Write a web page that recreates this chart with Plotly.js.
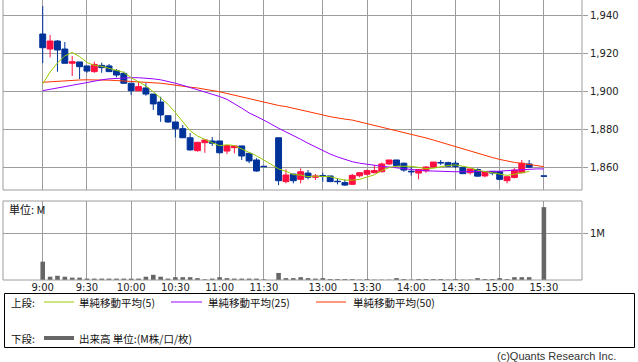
<!DOCTYPE html>
<html>
<head>
<meta charset="utf-8">
<script src="https://cdn.plot.ly/plotly-3.0.1.min.js"></script>
<style>html,body{margin:0;padding:0;background:#fff;}#chart{width:638px;height:362px;}</style>
</head>
<body>
<div id="chart"></div>
<script>
// ---- data (5-minute slots: 0 = 9:00, 31 = lunch gap, 32 = 12:30, 68 = 15:30) ----
const candleSlot = [0,1,2,3,4,5,6,7,8,9,10,11,12,13,14,15,16,17,18,19,20,21,22,23,24,25,26,27,28,29,30,
  32,33,34,35,36,37,38,39,40,41,42,43,44,45,46,47,48,49,50,51,52,53,54,55,56,57,58,59,60,61,62,63,64,65,66,68];
const openP = [1930.0,1922.1,1926.3,1922.1,1914.6,1915.3,1913.2,1910.2,1913.5,1913.2,1910.7,1909.3,1904.1,1900.2,1901.6,1898.4,1894.2,1887.0,1883.7,1880.2,1875.4,1868.6,1872.8,1873.7,1873.7,1868.4,1870.2,1871.1,1867.2,1863.7,1860.4,
  1875.4,1852.3,1856.3,1853.5,1856.8,1854.6,1855.5,1855.3,1852.5,1851.8,1850.9,1855.4,1856.2,1857.0,1857.5,1861.6,1863.7,1862.0,1857.8,1856.8,1858.0,1860.0,1862.4,1862.3,1862.0,1859.8,1857.0,1858.7,1855.3,1857.7,1857.5,1852.8,1854.5,1857.0,1861.6,1855.3];
const highP = [1944.7,1929.5,1926.8,1925.8,1918.4,1915.3,1913.2,1915.4,1914.9,1914.2,1911.6,1910.2,1904.1,1904.9,1904.1,1898.4,1897.0,1887.0,1883.7,1882.1,1877.9,1873.0,1874.7,1875.8,1873.7,1871.3,1871.1,1871.1,1867.2,1864.6,1860.4,
  1875.4,1858.8,1856.3,1859.3,1858.4,1856.3,1857.0,1855.3,1854.0,1853.5,1856.3,1857.0,1858.6,1861.1,1862.3,1863.7,1863.7,1862.3,1860.0,1858.7,1860.4,1862.6,1863.7,1862.8,1863.3,1859.8,1859.0,1859.2,1857.5,1857.7,1857.5,1854.9,1859.4,1863.7,1863.7,1855.3];
const lowP = [1914.7,1917.7,1910.2,1914.6,1907.9,1906.3,1909.6,1909.6,1909.6,1910.2,1907.2,1903.7,1897.9,1900.2,1897.5,1890.0,1883.8,1883.2,1875.6,1875.4,1868.6,1868.1,1867.5,1871.1,1867.2,1866.8,1867.2,1863.7,1862.0,1857.5,1860.2,
  1850.5,1851.4,1851.4,1851.4,1853.5,1853.2,1852.3,1852.3,1850.9,1850.0,1850.5,1854.6,1855.6,1856.7,1857.2,1861.1,1860.3,1857.5,1855.5,1853.5,1857.0,1859.4,1861.1,1860.0,1859.4,1856.5,1856.0,1854.9,1854.6,1855.7,1853.0,1851.4,1854.0,1856.7,1859.4,1855.2];
const closeP = [1922.8,1926.3,1921.6,1914.6,1915.4,1912.8,1910.5,1914.0,1912.3,1910.2,1908.4,1904.1,1900.2,1902.3,1898.4,1893.2,1887.4,1883.7,1880.2,1875.4,1869.0,1873.0,1874.2,1872.5,1867.5,1871.3,1871.1,1865.8,1863.2,1857.9,1860.2,
  1852.8,1855.8,1852.8,1857.5,1854.6,1855.3,1855.0,1852.3,1852.3,1850.5,1855.6,1857.0,1858.1,1858.1,1861.6,1863.7,1860.7,1858.4,1857.5,1858.7,1860.0,1862.6,1862.2,1860.4,1860.3,1856.5,1859.0,1855.2,1857.5,1856.8,1853.5,1854.9,1858.4,1862.0,1859.9,1855.2];
const volumeM = [0.39,0.07,0.09,0.07,0.05,0.05,0.03,0.03,0.03,0.03,0.03,0.03,0.03,0.03,0.07,0.11,0.07,0.03,0.06,0.06,0.06,0.04,0.015,0.03,0.06,0.04,0.03,0.03,0.03,0.03,0.015,
  0.15,0.04,0.04,0.06,0.04,0.03,0.04,0.02,0.02,0.02,0.02,0.008,0.02,0.008,0.008,0.008,0.04,0.02,0.008,0.02,0.02,0.02,0.02,0.008,0.02,0.008,0.008,0.04,0.02,0.02,0.04,0.02,0.06,0.06,0.06,1.55];

const ma5Slot = [0,1,2,3,4,5,6,7,8,9,10,11,12,13,14,15,16,17,18,19,20,21,22,23,24,25,26,27,28,29,30,
  32,33,34,35,36,37,38,39,40,41,42,43,44,45,46,47,48,49,50,51,52,53,54,55,56,57,58,59,60,61,62,63,64,65,66];
const ma5 = [1903.7,1910.0,1914.8,1918.5,1920.3,1918.1,1915.0,1913.5,1913.0,1912.0,1911.1,1909.8,1907.0,1905.0,1902.7,1899.6,1896.3,1893.0,1888.6,1884.0,1879.1,1876.3,1874.4,1872.8,1871.2,1871.7,1871.3,1869.6,1867.8,1865.9,1863.7,
  1859.0,1857.8,1856.0,1855.8,1854.9,1855.2,1855.0,1854.9,1853.9,1853.1,1853.1,1853.5,1854.7,1855.9,1858.1,1859.7,1860.4,1860.5,1860.4,1859.8,1859.1,1859.4,1860.2,1860.8,1861.1,1860.4,1859.7,1858.3,1857.7,1857.0,1856.4,1855.6,1856.2,1857.1,1857.7];
const maLongSlot = [0,1,2,3,4,5,6,7,8,9,10,11,12,13,14,15,16,17,18,19,20,21,22,23,24,25,26,27,28,29,30,
  32,33,34,35,36,37,38,39,40,41,42,43,44,45,46,47,48,49,50,51,52,53,54,55,56,57,58,59,60,61,62,63,64,65,66,67,68];
const ma25 = [1900.2,1900.8,1901.5,1902.3,1903.0,1903.8,1904.6,1905.3,1905.9,1906.4,1906.7,1906.9,1907.0,1907.0,1906.8,1906.4,1905.9,1905.1,1904.1,1903.0,1901.9,1900.8,1899.6,1898.4,1897.1,1895.6,1893.5,1891.0,1888.5,1886.6,1884.7,
  1880.4,1878.6,1876.8,1874.6,1872.5,1870.5,1868.6,1866.8,1865.3,1864.0,1862.8,1862.0,1861.4,1860.9,1860.4,1860.0,1859.5,1859.0,1858.6,1858.3,1858.0,1857.8,1857.6,1857.5,1857.5,1857.5,1857.5,1857.5,1857.5,1857.6,1857.8,1858.1,1858.4,1858.7,1858.9,1859.0,1859.0];
const ma50 = [1904.6,1904.9,1905.2,1905.4,1905.6,1905.8,1905.9,1905.9,1905.8,1905.7,1905.5,1905.3,1905.1,1904.9,1904.7,1904.4,1904.1,1903.6,1903.0,1902.4,1902.0,1901.6,1901.0,1900.3,1899.6,1898.7,1897.8,1896.8,1895.8,1895.0,1894.2,
  1892.4,1891.8,1891.0,1890.2,1889.4,1888.4,1887.4,1886.5,1885.7,1885.2,1884.7,1883.8,1882.8,1881.8,1880.8,1879.9,1879.0,1878.4,1877.4,1876.3,1875.3,1874.2,1873.0,1871.8,1870.7,1869.6,1868.4,1867.2,1866.1,1865.0,1864.0,1863.0,1862.4,1861.9,1861.3,1860.8,1860.2];

const tickSlots = [0,6,12,18,24,30,38,44,50,56,62,68];
const tickLabels = ["9:00","9:30","10:00","10:30","11:00","11:30","13:00","13:30","14:00","14:30","15:00","15:30"];
const priceTicks = [1860,1880,1900,1920,1940];
const priceLabels = ["1,860","1,880","1,900","1,920","1,940"];
const volTicks = [1];
const volLabels = ["1M"];
const legendNames = ["単純移動平均(5)","単純移動平均(25)","単純移動平均(50)"];

// ---- style ----
const UP = "#ff1040", DOWN = "#003399";
const C5 = "#99cc00", C25 = "#9900ff", C50 = "#ff3300", VOL = "#666666";
const GRID = "#9c9c9c";
const W = 638, H = 362, ML = 3, MR = 56, MT = 0, MB = 82;
const PW = W - ML - MR, PH = H - MT - MB;
const px = x => (x - ML) / PW;
const py = y => (H - MB - y) / PH;
const xr = [-5.39, 73.17];
const tickFont = {family: "DejaVu Sans, sans-serif", size: 10, color: "#222"};
const jpFont = {family: "Noto Sans CJK JP, sans-serif", size: 10.5, color: "#111"};

const traces = [
  {type: "candlestick", x: candleSlot, open: openP, high: highP, low: lowP, close: closeP,
   xaxis: "x", yaxis: "y", whiskerwidth: 0,
   increasing: {line: {color: UP, width: 1}, fillcolor: UP},
   decreasing: {line: {color: DOWN, width: 1}, fillcolor: DOWN}, hoverinfo: "skip"},
  {type: "scatter", mode: "lines", x: maLongSlot, y: ma50, xaxis: "x", yaxis: "y", line: {color: C50, width: 1}},
  {type: "scatter", mode: "lines", x: maLongSlot, y: ma25, xaxis: "x", yaxis: "y", line: {color: C25, width: 1}},
  {type: "scatter", mode: "lines", x: ma5Slot, y: ma5, xaxis: "x", yaxis: "y", line: {color: C5, width: 1}},
  {type: "bar", x: candleSlot, y: volumeM, xaxis: "x2", yaxis: "y2", width: 0.62, marker: {color: VOL, line: {width: 0}}}
];

const topDom = [py(190), 1];
const botDom = [0, py(201)];
const shapes = [
  // top panel frame (left, right, bottom)
  {type: "line", xref: "paper", yref: "paper", x0: 0, x1: 0, y0: topDom[0], y1: 1, line: {color: GRID, width: 1}},
  {type: "line", xref: "paper", yref: "paper", x0: 1, x1: 1, y0: topDom[0], y1: 1, line: {color: GRID, width: 1}},
  {type: "line", xref: "paper", yref: "paper", x0: 0, x1: 1, y0: topDom[0], y1: topDom[0], line: {color: GRID, width: 1}},
  // bottom panel frame
  {type: "rect", xref: "paper", yref: "paper", x0: 0, x1: 1, y0: 0, y1: botDom[1], line: {color: GRID, width: 1}},
  // legend box
  {type: "rect", xref: "paper", yref: "paper", x0: px(4.5), x1: px(634.5), y0: py(293.5), y1: py(347.5), line: {color: "#000", width: 1}},
  {type: "line", xref: "paper", yref: "paper", x0: px(44), x1: px(74), y0: py(302), y1: py(302), line: {color: C5, width: 1}},
  {type: "line", xref: "paper", yref: "paper", x0: px(171), x1: px(202), y0: py(302), y1: py(302), line: {color: C25, width: 1}},
  {type: "line", xref: "paper", yref: "paper", x0: px(316), x1: px(346), y0: py(302), y1: py(302), line: {color: C50, width: 1}},
  {type: "line", xref: "paper", yref: "paper", x0: px(44), x1: px(74), y0: py(338), y1: py(338), line: {color: VOL, width: 4}}
];
const ann = (x, y, text, font, anchor) => ({xref: "paper", yref: "paper", x: px(x), y: py(y), text: text,
  showarrow: false, xanchor: anchor || "left", yanchor: "middle", font: font});
const annotations = [
  ann(7, 209, "単位: M", {family: "Noto Sans CJK JP, sans-serif", size: 11, color: "#111"}),
  ann(9, 302, "上段:", jpFont),
  ann(77, 302, legendNames[0], jpFont),
  ann(206, 302, legendNames[1], jpFont),
  ann(351, 302, legendNames[2], jpFont),
  ann(9, 338, "下段:", jpFont),
  ann(77, 338, "出来高 単位:(M株/口/枚)", jpFont),
  ann(618, 356, "(c)Quants Research Inc.", {family: "Liberation Sans, sans-serif", size: 11, color: "#333"}, "right")
];

const layout = {
  width: W, height: H, margin: {l: ML, r: MR, t: MT, b: MB, pad: 0},
  paper_bgcolor: "#fff", plot_bgcolor: "#fff", showlegend: false, boxgap: 0.2, boxgroupgap: 0,
  xaxis: {domain: [0, 1], anchor: "y", range: xr, tickvals: tickSlots, showticklabels: false, ticks: "",
          showgrid: true, gridcolor: GRID, gridwidth: 1, zeroline: false, showline: false, rangeslider: {visible: false}},
  yaxis: {domain: topDom, anchor: "x", side: "right", range: [1847.9, 1947.9], tickvals: priceTicks, ticktext: priceLabels,
          ticks: "outside", ticklen: 5, tickcolor: GRID, tickwidth: 1, showgrid: true, gridcolor: GRID, zeroline: false, showline: false, tickfont: tickFont},
  xaxis2: {domain: [0, 1], anchor: "y2", range: xr, tickvals: tickSlots, ticktext: tickLabels, ticks: "",
          showgrid: true, gridcolor: GRID, gridwidth: 1, zeroline: false, showline: false, tickfont: tickFont},
  yaxis2: {domain: botDom, anchor: "x2", side: "right", range: [0, 1.681], tickvals: volTicks, ticktext: volLabels,
          ticks: "outside", ticklen: 5, tickcolor: GRID, tickwidth: 1, showgrid: true, gridcolor: GRID, zeroline: false, showline: false, tickfont: tickFont},
  shapes: shapes, annotations: annotations
};

Plotly.newPlot("chart", traces, layout, {staticPlot: true, displayModeBar: false});
</script>
</body>
</html>
